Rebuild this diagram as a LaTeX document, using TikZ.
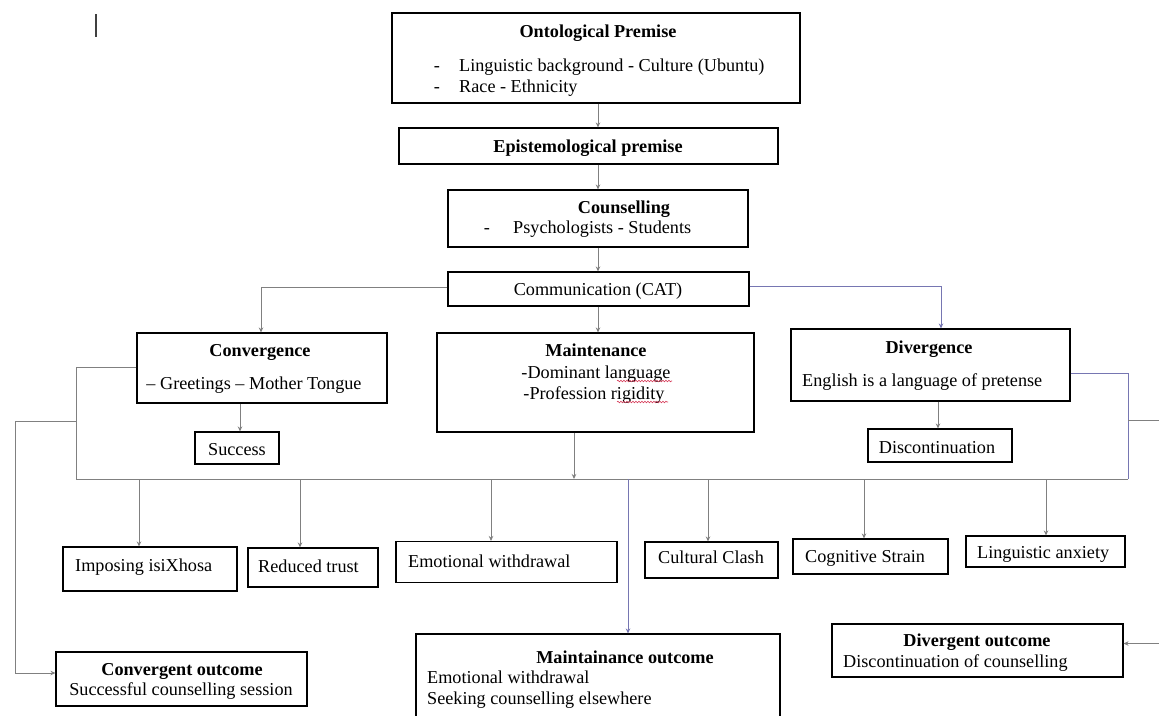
\documentclass[tikz,border=0pt]{standalone}
\usepackage{fontspec}
\setmainfont{Liberation Serif}
\usetikzlibrary{arrows.meta,decorations.pathmorphing}
\definecolor{linegray}{RGB}{128,128,128}
\definecolor{lineblue}{RGB}{118,118,178}
\definecolor{squig}{RGB}{215,60,90}
\begin{document}
\begin{tikzpicture}[x=1pt,y=-1pt,
  every node/.style={font=\fontsize{18.2pt}{22pt}\selectfont},
  box/.style={draw=black, line width=1.1pt, inner sep=0pt},
  txt/.style={inner sep=0pt, anchor=base},
  txtl/.style={inner sep=0pt, anchor=base west},
  wire/.style={draw=linegray, line width=0.9pt},
  conn/.style={wire, -{Stealth[length=5pt,width=4.5pt]}},
  connb/.style={conn, draw=lineblue},
  squiggle/.style={draw=squig, line width=0.6pt, decorate, decoration={snake, amplitude=0.8pt, segment length=3pt}}
]
\useasboundingbox (0,0) rectangle (1159,715);
\fill[white] (0,0) rectangle (1159,715);
\clip (0,0) rectangle (1159,715);

% text cursor mark
\draw[black!75, line width=1.4pt] (96,14) -- (96,37);

% ---------- boxes ----------
\node[box, minimum width=408pt, minimum height=90pt] (onto) at (596,58) {};
\node[box, minimum width=379pt, minimum height=36pt] (epi) at (588.5,146) {};
\node[box, minimum width=300pt, minimum height=57pt] (couns) at (598,218.5) {};
\node[box, minimum width=301pt, minimum height=34pt] (comm) at (598.5,289) {};
\node[box, minimum width=250pt, minimum height=70pt] (conv) at (262,368) {};
\node[box, minimum width=317pt, minimum height=99pt] (maint) at (595.5,382.5) {};
\node[box, minimum width=279pt, minimum height=72pt] (div) at (930.5,365) {};
\node[box, minimum width=84pt, minimum height=32pt] (succ) at (237,448) {};
\node[box, minimum width=144pt, minimum height=33pt] (disc) at (940,445.5) {};
\node[box, minimum width=174pt, minimum height=44pt] (impo) at (150,569) {};
\node[box, minimum width=130pt, minimum height=39pt] (trust) at (313,567.5) {};
\node[box, minimum width=221pt, minimum height=41pt] (emo) at (506.5,562) {};
\node[box, minimum width=133pt, minimum height=36pt] (clash) at (711.5,560) {};
\node[box, minimum width=155pt, minimum height=35pt] (cog) at (870.5,556.5) {};
\node[box, minimum width=159pt, minimum height=31pt] (ling) at (1045.5,551.5) {};
\node[box, minimum width=251pt, minimum height=54pt] (convout) at (181.5,679) {};
\node[box, minimum width=364pt, minimum height=96pt] (maintout) at (598,682) {};
\node[box, minimum width=291pt, minimum height=53pt] (divout) at (977.5,650.5) {};

% ---------- texts ----------
\node[txt] (ontoT) at (598,37) {\bfseries Ontological Premise};
\node[txt] (ontoD1) at (437,71) {-};
\node[txtl] (ontoL1) at (459,71) {Linguistic background - Culture (Ubuntu)};
\node[txt] (ontoD2) at (437,92) {-};
\node[txtl] (ontoL2) at (459,92) {Race - Ethnicity};

\node[txt] (epiT) at (588,152) {\bfseries Epistemological premise};

\node[txt] (counsT) at (624,213) {\bfseries Counselling};
\node[txt] (counsD) at (487,233) {-};
\node[txtl] (counsL) at (513,233) {Psychologists - Students};

\node[txt] (commT) at (598,295) {Communication (CAT)};

\node[txt] (convT) at (260,356) {\bfseries Convergence};
\node[txt] (convL) at (254,389) {\textendash\ Greetings \textendash\ Mother Tongue};

\node[txt] (maintT) at (596,356) {\bfseries Maintenance};
\node[txt] (maintL1) at (596,378) {-Dominant language};
\node[txt] (maintL2) at (594,399) {-Profession rigidity};

\node[txt] (divT) at (929,353) {\bfseries Divergence};
\node[txtl] (divL) at (802,386) {English is a language of pretense};

\node[txt] (succT) at (237,455) {Success};
\node[txt] (discT) at (937,453) {Discontinuation};

\node[txtl] (impoT) at (75,571) {Imposing isiXhosa};
\node[txtl] (trustT) at (258,572) {Reduced trust};
\node[txtl] (emoT) at (408,567) {Emotional withdrawal};
\node[txtl] (clashT) at (658,563) {Cultural Clash};
\node[txtl] (cogT) at (805,562) {Cognitive Strain};
\node[txtl] (lingT) at (977,558) {Linguistic anxiety};

\node[txt] (convoutT) at (182,675) {\bfseries Convergent outcome};
\node[txt] (convoutL) at (181,695) {Successful counselling session};

\node[txt] (maintoutT) at (625,663) {\bfseries Maintainance outcome};
\node[txtl] (maintoutL1) at (427,683) {Emotional withdrawal};
\node[txtl] (maintoutL2) at (427,704) {Seeking counselling elsewhere};

\node[txt] (divoutT) at (977,646) {\bfseries Divergent outcome};
\node[txtl] (divoutL) at (843,667) {Discontinuation of counselling};

% spell-check squiggles
\draw[squiggle] (617,381) -- (672,381);
\draw[squiggle] (617,402) -- (668,402);

% ---------- helper coordinates ----------
\coordinate (spine) at (598,0);
\coordinate (dA) at (941,0);
\coordinate (sA) at (240,0);
\coordinate (discA) at (938,0);
\coordinate (mA) at (574,0);
\coordinate (busL) at (76,479);
\coordinate (busR) at (1128,479);
\coordinate (lJ) at (76,421);
\coordinate (lC) at (15,421);
\coordinate (rJ) at (1128,420);
\coordinate (rC) at (1172,420);
\coordinate (x1) at (139,0);
\coordinate (x2) at (300,0);
\coordinate (x3) at (491,0);
\coordinate (x4) at (628,0);
\coordinate (x5) at (708,0);
\coordinate (x6) at (864,0);
\coordinate (x7) at (1046,0);

% ---------- connectors ----------
\draw[conn] (onto.south -| spine) -- (epi.north -| spine);
\draw[conn] (epi.south -| spine) -- (couns.north -| spine);
\draw[conn] (couns.south -| spine) -- (comm.north -| spine);
\draw[conn] ([yshift=2pt]comm.west) -| (conv.north -| 261,0);
\draw[conn] (comm.south -| spine) -- (maint.north -| spine);
\draw[connb] ([yshift=3pt]comm.east) -| (div.north -| dA);
\draw[conn] (conv.south -| sA) -- (succ.north -| sA);
\draw[conn] (div.south -| discA) -- (disc.north -| discA);

% bus
\draw[wire] ([yshift=1pt]conv.west) -| (busL) -- (busR);
\draw[draw=lineblue, line width=0.9pt] ([yshift=-8pt]div.east) -| (busR);
\draw[conn] (maint.south -| mA) -- (busL -| mA);

% outer loops
\draw[conn] (lJ) -- (lC) |- ([yshift=6pt]convout.west);
\draw[wire] (rJ) -- (rC);
\draw[conn] (rC) |- ([yshift=7pt]divout.east);

% drops from bus
\draw[conn] (busL -| x1) -- (impo.north -| x1);
\draw[conn] (busL -| x2) -- (trust.north -| x2);
\draw[conn] (busL -| x3) -- (emo.north -| x3);
\draw[connb] (busL -| x4) -- (maintout.north -| x4);
\draw[conn] (busL -| x5) -- (clash.north -| x5);
\draw[conn] (busL -| x6) -- (cog.north -| x6);
\draw[conn] (busL -| x7) -- (ling.north -| x7);
\end{tikzpicture}
\end{document}
